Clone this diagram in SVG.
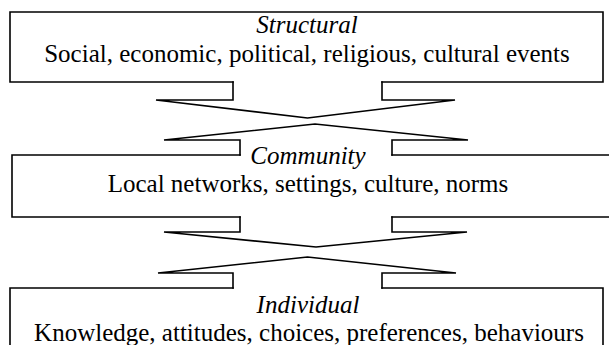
<svg xmlns="http://www.w3.org/2000/svg" width="609" height="345" viewBox="0 0 609 345">
<style>
.o{fill:none;stroke:#000;stroke-width:1.6;stroke-linecap:square;stroke-linejoin:miter}
text{fill:#000;text-anchor:middle;font-size:25px}
.h{font-style:italic}
</style>
<rect width="609" height="345" fill="#fff"/>
<g font-family="Liberation Serif, Times New Roman, Times, serif">
<g id="structural">
<path class="o" d="M233,82 H10 V12 H603 V82 H382"/>
<text class="h" x="307" y="33">Structural</text>
<text class="t" x="307" y="62">Social, economic, political, religious, cultural events</text>
</g>
<g id="community">
<path class="o" d="M240,155 H12 V217 H240 M392,217 H612 V155 H392"/>
<text class="h" x="308" y="164">Community</text>
<text class="t" x="308" y="192">Local networks, settings, culture, norms</text>
</g>
<g id="individual">
<path class="o" d="M233,288 H10 V350 M603,350 V288 H382"/>
<text class="h" x="308" y="313">Individual</text>
<text class="t" x="309" y="341">Knowledge, attitudes, choices, preferences, behaviours</text>
</g>
</g>
<g id="connectors">
<path class="o" d="M233,82 V100 H156 L307.5,118 L455,100 H382 V82"/>
<path class="o" d="M240,155 V140 H164 L315,124 L468,140 H392 V155"/>
<path class="o" d="M240,217 V232 H164 L316,247 L467,232 H392 V217"/>
<path class="o" d="M233,288 V273 H158 L307.5,257 L456,273 H382 V288"/>
</g>
</svg>
